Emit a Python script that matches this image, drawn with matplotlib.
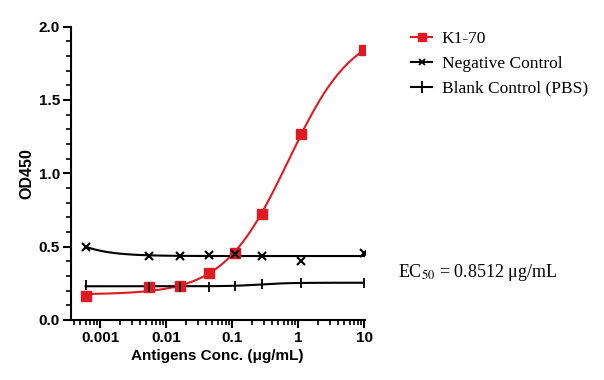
import matplotlib
matplotlib.use('Agg')
import matplotlib.pyplot as plt
import numpy as np
from matplotlib.ticker import LogLocator, FixedLocator, MultipleLocator, NullFormatter

# %% data
conc = np.array([0.0006, 0.0055, 0.016, 0.045, 0.11, 0.28, 1.1, 10.0])
k170 = np.array([0.164, 0.223, 0.234, 0.318, 0.458, 0.72, 1.27, 1.84])
negative = np.array([0.50, 0.433, 0.433, 0.444, 0.45, 0.433, 0.405, 0.458])
blank = np.array([0.24, 0.225, 0.228, 0.228, 0.23, 0.245, 0.25, 0.255])

x_ticks = [0.001, 0.01, 0.1, 1, 10]
x_tick_labels = ['0.001', '0.01', '0.1', '1', '10']
y_ticks = [0.0, 0.5, 1.0, 1.5, 2.0]
ec50_text = 'EC$_{50}$ = 0.8512 μg/mL'


# %% 4PL fit, grid over log EC50 and hill, linear in bottom/top
def fit_4pl(x, y, hill_max=6):
    lx = np.log10(x)
    best = None
    for lec in np.linspace(-4, 2, 241):
        for hill in np.linspace(0.2, hill_max, 60):
            f = 1.0 / (1.0 + 10 ** ((lec - lx) * hill))
            A = np.column_stack([1 - f, f])
            coef, *_ = np.linalg.lstsq(A, y, rcond=None)
            err = np.sum((A @ coef - y) ** 2)
            if best is None or err < best[0]:
                best = (err, lec, hill, coef)
    _, lec, hill, (bottom, top) = best
    return lambda xx: bottom + (top - bottom) / (1.0 + 10 ** ((lec - np.log10(xx)) * hill))


xs = np.logspace(np.log10(conc[0]), np.log10(conc[-1]), 400)

# %% plot
fig = plt.figure(figsize=(6.04, 3.8), dpi=100)
ax = fig.add_axes([0.1175, 0.158, 0.486, 0.772])

red = '#e01a22'
ax.plot(xs, fit_4pl(conc, k170)(xs), color=red, lw=1.5)
ax.plot(xs, fit_4pl(conc, negative, hill_max=1.2)(xs), color='black', lw=1.5)
ax.plot(xs, fit_4pl(conc, blank, hill_max=2.0)(xs), color='black', lw=1.5)
ax.plot(conc, k170, ls='none', marker='s', ms=7, color=red)
ax.plot(conc, negative, ls='none', marker='x', ms=6, mew=1.5, color='black')
ax.plot(conc, blank, ls='none', marker='|', ms=7, mew=1.3, color='black')

# legend proxies
h1, = ax.plot([], [], color=red, lw=1.5, marker='s', ms=6)
h2, = ax.plot([], [], color='black', lw=1.5, marker='x', ms=5, mew=1.3)
h3, = ax.plot([], [], color='black', lw=1.5, marker='+', ms=8, mew=1.3)
fig.legend([h1, h2, h3], ['K1-70', 'Negative Control', 'Blank Control (PBS)'],
           loc='upper left', bbox_to_anchor=(0.655, 0.96), frameon=False,
           prop={'family': 'Liberation Serif', 'size': 12.5},
           handlelength=1.2, handletextpad=0.55, labelspacing=0.5)

ax.set_xscale('log')
ax.set_xlim(0.00036, 10.1)
ax.set_ylim(0, 2.0)
ax.xaxis.set_major_locator(FixedLocator(x_ticks))
ax.set_xticklabels(x_tick_labels)
ax.xaxis.set_minor_locator(LogLocator(base=10, subs=np.arange(2, 10)))
ax.xaxis.set_minor_formatter(NullFormatter())
ax.set_yticks(y_ticks)
ax.set_yticklabels([f'{v:.1f}' for v in y_ticks])
ax.yaxis.set_minor_locator(MultipleLocator(0.1))

for s in ['top', 'right']:
    ax.spines[s].set_visible(False)
for s in ['left', 'bottom']:
    ax.spines[s].set_linewidth(1.5)
ax.tick_params(which='major', length=6, width=1.5, direction='out', pad=2)
ax.tick_params(which='minor', length=3.5, width=1.2, direction='out')
for lab in ax.get_xticklabels() + ax.get_yticklabels():
    lab.set_fontfamily('Liberation Sans')
    lab.set_fontweight('bold')
    lab.set_fontsize(11)

ax.set_xlabel('Antigens Conc. (μg/mL)', family='Liberation Sans', weight='bold', fontsize=11, labelpad=3)
ax.set_ylabel('OD450', family='Liberation Sans', weight='bold', fontsize=11.5, labelpad=3)

plt.rcParams['mathtext.fontset'] = 'stix'
fig.text(0.659, 0.27, ec50_text, family='Liberation Serif', fontsize=13)

fig.savefig('out.png', dpi=100)
